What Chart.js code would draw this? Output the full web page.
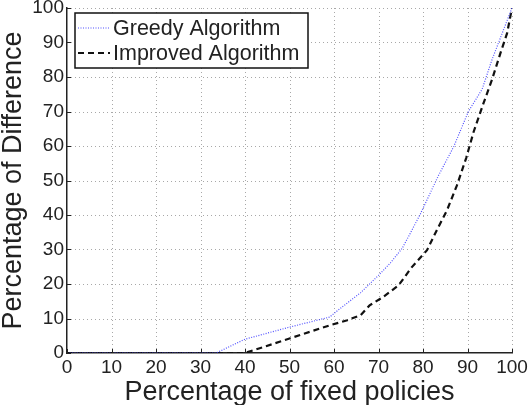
<!DOCTYPE html>
<html>
<head>
<meta charset="utf-8">
<script src="https://cdn.jsdelivr.net/npm/chart.js@4.4.1/dist/chart.umd.min.js"></script>
<style>
  html, body { margin: 0; padding: 0; background: #fff; }
  #wrap { width: 529px; height: 405px; }
</style>
</head>
<body>
<div id="wrap"><canvas id="chart" width="529" height="405"></canvas></div>
<script>
// values
const greedyX = [0, 33.5, 40, 50, 59, 61, 66, 70, 72.6, 75.3, 77.1, 79.4, 81.6, 83.5, 86.9, 90.2, 93.3, 95.5, 98.1, 100];
const greedyY = [0, 0, 4, 7.5, 10.4, 12.5, 17.5, 22.5, 26, 30.3, 34.6, 40.3, 46.3, 51.5, 59.8, 70, 76.5, 85, 93.7, 100];

const improvedX = [0, 40, 50, 59, 63, 66, 68, 71, 74.5, 77.5, 80.9, 83.1, 85.4, 87.6, 89.7, 91.4, 93.6, 95.5, 97.4, 98.9, 100];
const improvedY = [0, 0, 4.2, 8, 9.5, 11, 13.8, 16.2, 19.6, 24.9, 29.8, 35.6, 41.4, 48.5, 56.5, 64.2, 72.4, 79.2, 86.9, 92.7, 100];

const xTicks = [0, 10, 20, 30, 40, 50, 60, 70, 80, 90, 100];
const yTicks = [0, 10, 20, 30, 40, 50, 60, 70, 80, 90, 100];

const seriesNames = ['Greedy Algorithm', 'Improved Algorithm'];

const FONT = "'Liberation Sans', Arial, Helvetica, sans-serif";
const TEXT = '#222';

function pairs(xs, ys) {
  return xs.map((x, i) => ({ x: x, y: ys[i] }));
}

// dotted grid (matlab style), drawn under the lines
const dottedGrid = {
  id: 'dottedGrid',
  beforeDatasetsDraw(chart) {
    const ctx = chart.ctx;
    const area = chart.chartArea;
    const xs = chart.scales.x;
    const ys = chart.scales.y;
    ctx.save();
    ctx.strokeStyle = '#a8a8a8';
    ctx.lineWidth = 1;
    ctx.setLineDash([1, 3]);
    ctx.beginPath();
    xTicks.slice(1).forEach(v => {
      const px = Math.round(xs.getPixelForValue(v)) + 0.5;
      ctx.moveTo(px, area.bottom);
      ctx.lineTo(px, area.top);
    });
    yTicks.slice(1).forEach(v => {
      const py = Math.round(ys.getPixelForValue(v)) + 0.5;
      ctx.moveTo(area.left, py);
      ctx.lineTo(area.right, py);
    });
    ctx.stroke();
    ctx.restore();
  },
  afterDraw(chart) {
    // small inward tick marks on the left and bottom axes
    const ctx = chart.ctx;
    const area = chart.chartArea;
    const xs = chart.scales.x;
    const ys = chart.scales.y;
    ctx.save();
    ctx.strokeStyle = '#222';
    ctx.lineWidth = 1;
    ctx.beginPath();
    xTicks.forEach(v => {
      const px = Math.round(xs.getPixelForValue(v)) + 0.5;
      ctx.moveTo(px, area.bottom);
      ctx.lineTo(px, area.bottom - 4);
    });
    yTicks.forEach(v => {
      const py = Math.round(ys.getPixelForValue(v)) + 0.5;
      ctx.moveTo(area.left, py);
      ctx.lineTo(area.left + 4, py);
    });
    ctx.stroke();
    ctx.restore();
  }
};

// boxed legend in the top-left corner
const boxLegend = {
  id: 'boxLegend',
  afterDraw(chart) {
    const ctx = chart.ctx;
    const x0 = 75, y0 = 13, w = 233, h = 55;
    ctx.save();
    ctx.fillStyle = '#fff';
    ctx.fillRect(x0, y0, w, h);
    ctx.strokeStyle = '#111';
    ctx.lineWidth = 1.5;
    ctx.strokeRect(x0, y0, w, h);
    ctx.font = '21.5px ' + FONT;
    ctx.textBaseline = 'middle';
    ctx.fillStyle = TEXT;
    chart.data.datasets.forEach((ds, i) => {
      const y = y0 + 15 + i * 25;
      ctx.save();
      ctx.strokeStyle = ds.borderColor;
      ctx.lineWidth = ds.borderWidth;
      ctx.setLineDash(ds.borderDash);
      ctx.beginPath();
      ctx.moveTo(x0 + 3, y);
      ctx.lineTo(x0 + 35, y);
      ctx.stroke();
      ctx.restore();
      ctx.fillText(ds.label, x0 + 38, y + 1);
    });
    ctx.restore();
  }
};

new Chart(document.getElementById('chart'), {
  type: 'line',
  data: {
    datasets: [{
      label: seriesNames[0],
      data: pairs(greedyX, greedyY),
      borderColor: 'rgba(50,50,255,0.85)',
      borderWidth: 1.2,
      borderDash: [1, 1.5],
      pointRadius: 0,
      tension: 0,
      fill: false
    }, {
      label: seriesNames[1],
      data: pairs(improvedX, improvedY),
      borderColor: '#111',
      borderWidth: 2.2,
      borderDash: [6, 4],
      pointRadius: 0,
      tension: 0,
      fill: false
    }]
  },
  options: {
    responsive: false,
    animation: false,
    layout: {
      padding: { top: 8, right: 17, left: 0, bottom: 0 }
    },
    plugins: {
      legend: { display: false },
      tooltip: { enabled: false }
    },
    scales: {
      x: {
        type: 'linear',
        min: 0,
        max: 100,
        afterBuildTicks: (scale) => { scale.ticks = xTicks.map(v => ({ value: v })); },
        afterFit: (scale) => { scale.height = 52; scale.paddingLeft = 0; scale.paddingRight = 0; },
        ticks: {
          autoSkip: false,
          maxRotation: 0,
          padding: 3,
          color: TEXT,
          font: { family: FONT, size: 19 }
        },
        grid: { display: false, drawTicks: false },
        border: { color: '#222', width: 1.5 },
        title: {
          display: true,
          text: 'Percentage of fixed policies',
          color: TEXT,
          font: { family: FONT, size: 27, lineHeight: 1 },
          padding: { top: 0, bottom: -1 }
        }
      },
      y: {
        type: 'linear',
        min: 0,
        max: 100,
        afterBuildTicks: (scale) => { scale.ticks = yTicks.map(v => ({ value: v })); },
        afterFit: (scale) => { scale.width = 67; scale.paddingTop = 0; scale.paddingBottom = 0; },
        ticks: {
          autoSkip: false,
          padding: 3,
          color: TEXT,
          font: { family: FONT, size: 19 }
        },
        grid: { display: false, drawTicks: false },
        border: { color: '#222', width: 1.5 },
        title: {
          display: true,
          text: 'Percentage of Difference',
          color: TEXT,
          font: { family: FONT, size: 27, lineHeight: 1 },
          padding: { top: 0, bottom: 0 }
        }
      }
    }
  },
  plugins: [dottedGrid, boxLegend]
});
</script>
</body>
</html>
